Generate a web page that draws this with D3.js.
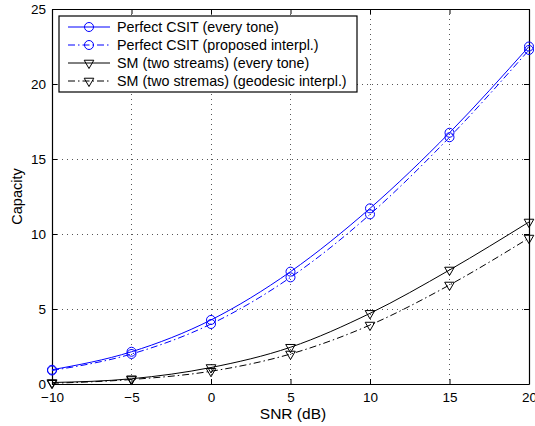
<!DOCTYPE html>
<html lang="en">
<head>
    <meta charset="UTF-8">
    <title>Capacity vs SNR</title>
    <script src="https://d3js.org/d3.v7.min.js"></script>
    <style>
        body { margin: 0; background: #fff; }
        text { font-family: "Liberation Sans", Arial, sans-serif; }
    </style>
</head>
<body>
    <div id="graph"></div>
    <script>
        // data
        const snr = [-10, -5, 0, 5, 10, 15, 20]
        const csitEvery = [0.95, 2.15, 4.27, 7.49, 11.71, 16.75, 22.5]
        const csitInterp = [0.9, 2.0, 4.0, 7.11, 11.31, 16.45, 22.27]
        const smEvery = [0.1, 0.35, 1.1, 2.45, 4.71, 7.6, 10.8]
        const smGeo = [0.05, 0.3, 0.85, 2.0, 3.93, 6.6, 9.73]
        const xTicks = [-10, -5, 0, 5, 10, 15, 20]
        const yTicks = [0, 5, 10, 15, 20, 25]

        const series = [
            {name: "Perfect CSIT (every tone)", values: csitEvery, color: "#0000ff", dash: null, marker: "circle"},
            {name: "Perfect CSIT (proposed interpl.)", values: csitInterp, color: "#0000ff", dash: "7,3,1.5,3", marker: "circle"},
            {name: "SM (two streams) (every tone)", values: smEvery, color: "#000", dash: null, marker: "tri"},
            {name: "SM (two stremas) (geodesic interpl.)", values: smGeo, color: "#000", dash: "7,3,1.5,3", marker: "tri"}
        ]

        const width = 535, height = 426
        const margin = {left: 52, right: 6, top: 9, bottom: 42}
        const w = width - margin.left - margin.right
        const h = height - margin.top - margin.bottom

        const svg = d3.select("#graph").append("svg")
            .attr("width", width)
            .attr("height", height)

        const g = svg.append("g")
            .attr("transform", "translate(" + margin.left + "," + margin.top + ")")

        const x = d3.scaleLinear().domain([-10, 20]).range([0, w])
        const y = d3.scaleLinear().domain([0, 25]).range([h, 0])

        // dotted grid
        g.selectAll("line.vgrid").data(xTicks.slice(1, -1)).enter()
            .append("line")
                .attr("x1", d => x(d)).attr("x2", d => x(d))
                .attr("y1", 0).attr("y2", h)
                .attr("stroke", "#555")
                .attr("stroke-width", 1)
                .attr("stroke-dasharray", "1,4")
                .attr("shape-rendering", "crispEdges")

        g.selectAll("line.hgrid").data(yTicks.slice(1, -1)).enter()
            .append("line")
                .attr("x1", 0).attr("x2", w)
                .attr("y1", d => y(d)).attr("y2", d => y(d))
                .attr("stroke", "#555")
                .attr("stroke-width", 1)
                .attr("stroke-dasharray", "1,4")
                .attr("shape-rendering", "crispEdges")

        // axes with inward ticks
        const fontSize = "13.5px"
        const axBottom = g.append("g").attr("transform", "translate(0," + h + ")")
            .call(d3.axisBottom(x).tickValues(xTicks).tickSizeInner(-5).tickSizeOuter(0).tickPadding(8)
                .tickFormat(d => d < 0 ? "\u2212" + Math.abs(d) : d))
        const axTop = g.append("g")
            .call(d3.axisTop(x).tickValues(xTicks).tickSizeInner(-5).tickSizeOuter(0).tickFormat(""))
        const axLeft = g.append("g")
            .call(d3.axisLeft(y).tickValues(yTicks).tickSizeInner(-5).tickSizeOuter(0).tickPadding(6))
        const axRight = g.append("g").attr("transform", "translate(" + w + ",0)")
            .call(d3.axisRight(y).tickValues(yTicks).tickSizeInner(-5).tickSizeOuter(0).tickFormat(""))

        ;[axBottom, axTop, axLeft, axRight].forEach(a => {
            a.select(".domain").attr("stroke", "#000").attr("stroke-width", 1.2)
            a.selectAll(".tick line").attr("stroke", "#000")
            a.selectAll("text").style("font-size", fontSize).attr("fill", "#000")
        })

        // lines
        const line = d3.line()
            .x((d, i) => x(snr[i]))
            .y(d => y(d))
            .curve(d3.curveMonotoneX)

        series.forEach(s => {
            g.append("path")
                .datum(s.values)
                .attr("fill", "none")
                .attr("stroke", s.color)
                .attr("stroke-width", 1)
                .attr("stroke-dasharray", s.dash)
                .attr("d", line)
        })

        const tri = d3.symbol().type(d3.symbolTriangle).size(40)

        function drawMarker(sel, s, cx, cy) {
            if (s.marker === "circle") {
                sel.append("circle")
                    .attr("cx", cx).attr("cy", cy).attr("r", 4.5)
                    .attr("fill", "none").attr("stroke", s.color).attr("stroke-width", 1)
            } else {
                sel.append("path")
                    .attr("d", tri)
                    .attr("transform", "translate(" + cx + "," + cy + ") rotate(180)")
                    .attr("fill", "none").attr("stroke", s.color).attr("stroke-width", 1)
            }
        }

        series.forEach(s => {
            const mg = g.append("g")
            s.values.forEach((v, i) => drawMarker(mg, s, x(snr[i]), y(v)))
        })

        // legend
        const lg = g.append("g").attr("transform", "translate(7,7)")
        lg.append("rect")
            .attr("width", 298).attr("height", 76)
            .attr("fill", "#fff").attr("stroke", "#000").attr("stroke-width", 1.2)

        series.forEach((s, i) => {
            const ly = 11 + i * 18
            lg.append("line")
                .attr("x1", 9).attr("x2", 51)
                .attr("y1", ly).attr("y2", ly)
                .attr("stroke", s.color).attr("stroke-width", 1)
                .attr("stroke-dasharray", s.dash)
            drawMarker(lg, s, 30, ly)
            lg.append("text")
                .attr("x", 58).attr("y", ly)
                .attr("dy", "0.36em")
                .style("font-size", "14.3px")
                .text(s.name)
        })

        // axis labels
        svg.append("text")
            .attr("x", 293)
            .attr("y", 419)
            .attr("text-anchor", "middle")
            .style("font-size", "15.5px")
            .text("SNR (dB)")

        svg.append("text")
            .attr("transform", "translate(22," + (margin.top + h / 2) + ") rotate(-90)")
            .attr("text-anchor", "middle")
            .style("font-size", "14.5px")
            .text("Capacity")
    </script>
</body>
</html>
